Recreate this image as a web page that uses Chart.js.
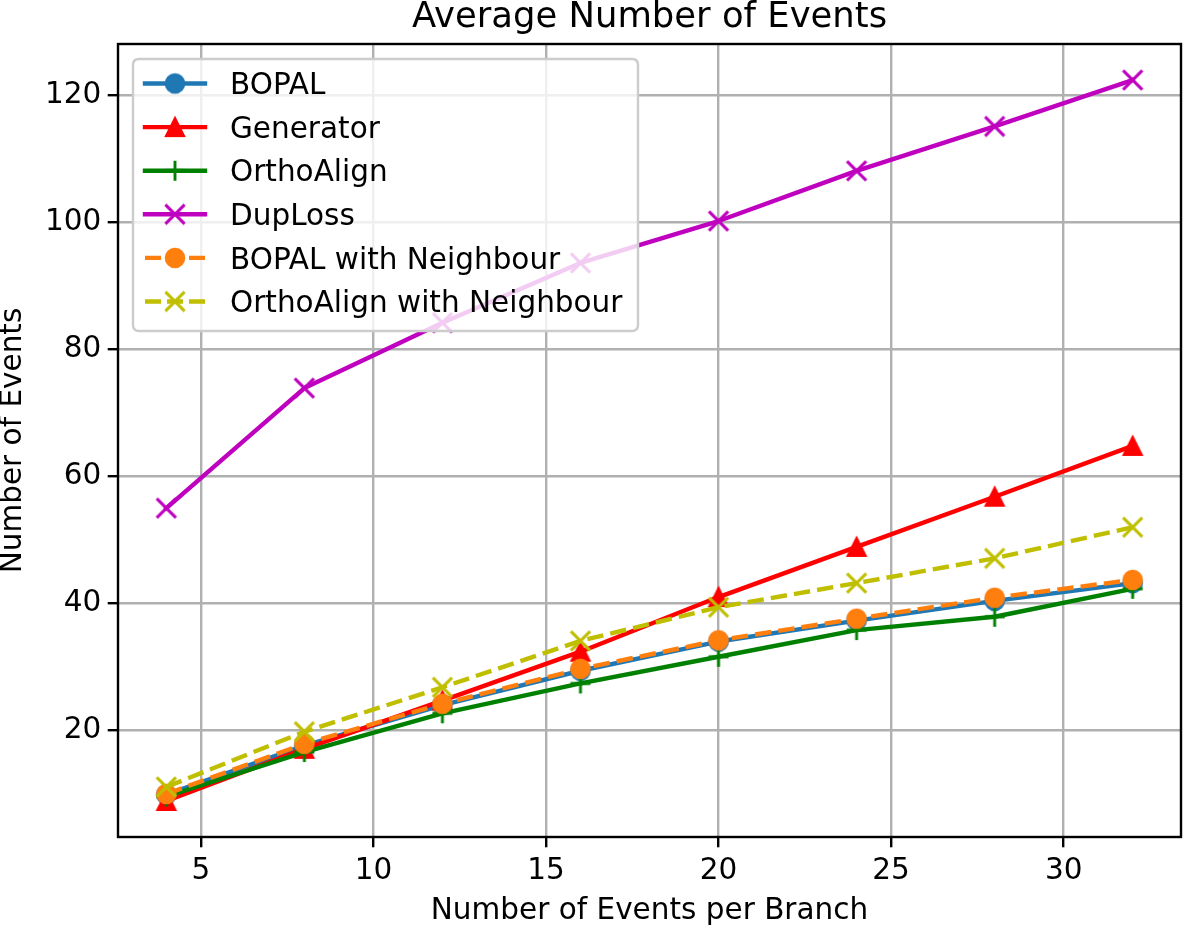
<!DOCTYPE html>
<html>
<head>
<meta charset="utf-8">
<script src="https://cdn.jsdelivr.net/npm/chart.js@4.4.1/dist/chart.umd.min.js"></script>
<style>
html, body { margin: 0; padding: 0; background: #ffffff; }
#wrap { width: 1183px; height: 927px; }
</style>
</head>
<body>
<div id="wrap"><canvas id="c" width="1183" height="927"></canvas></div>
<script>
// ---- data ----
const xValues = [4, 8, 12, 16, 20, 24, 28, 32];
const bopal = [9.9, 17.6, 24.0, 29.4, 34.0, 37.3, 40.4, 43.2];
const generator = [8.9, 17.1, 24.7, 32.4, 41.0, 48.9, 56.8, 64.8];
const orthoAlign = [9.6, 16.6, 22.7, 27.4, 31.6, 35.8, 37.9, 42.3];
const dupLoss = [55.0, 73.9, 84.2, 93.6, 100.2, 108.1, 115.1, 122.4];
const bopalNeighbour = [10.0, 17.9, 24.2, 29.7, 34.2, 37.6, 40.9, 43.7];
const orthoAlignNeighbour = [11.1, 19.8, 26.8, 34.1, 39.4, 43.2, 47.1, 52.0];
const seriesNames = ['BOPAL', 'Generator', 'OrthoAlign', 'DupLoss', 'BOPAL with Neighbour', 'OrthoAlign with Neighbour'];
const xTicks = [5, 10, 15, 20, 25, 30];
const yTicks = [20, 40, 60, 80, 100, 120];
const chartTitle = 'Average Number of Events';
const xTitle = 'Number of Events per Branch';
const yTitle = 'Number of Events';

// ---- styles ----
const FONT = 'DejaVu Sans';
const FS = 29.5;
const seriesValues = [bopal, generator, orthoAlign, dupLoss, bopalNeighbour, orthoAlignNeighbour];
const colors = ['#1f77b4', '#ff0000', '#008000', '#bf00bf', '#ff7f0e', '#bfbf00'];
const markers = ['circle', 'triangle', 'plus', 'x', 'circle', 'x'];
const dashed = [false, false, false, false, true, true];
const LW = 4.4;
const DASH = [16.4, 7.1];

function makeMarker(type, color) {
  const c = document.createElement('canvas');
  c.width = 28; c.height = 28;
  const g = c.getContext('2d');
  const m = 14;
  g.fillStyle = color; g.strokeStyle = color;
  if (type === 'circle') {
    g.lineWidth = 2.0;
    g.beginPath(); g.arc(m, m, 9.3, 0, Math.PI * 2); g.fill(); g.stroke();
  } else if (type === 'triangle') {
    const h = 9.0;
    g.lineWidth = 2.2; g.lineJoin = 'miter';
    g.beginPath(); g.moveTo(m, m - h); g.lineTo(m - h, m + h); g.lineTo(m + h, m + h); g.closePath();
    g.fill(); g.stroke();
  } else if (type === 'plus') {
    const h = 10.0;
    g.lineWidth = 2.9; g.lineCap = 'butt';
    g.beginPath(); g.moveTo(m - h, m); g.lineTo(m + h, m); g.moveTo(m, m - h); g.lineTo(m, m + h); g.stroke();
  } else if (type === 'x') {
    const h = 9.6;
    g.lineWidth = 3.0; g.lineCap = 'butt';
    g.beginPath(); g.moveTo(m - h, m - h); g.lineTo(m + h, m + h); g.moveTo(m - h, m + h); g.lineTo(m + h, m - h); g.stroke();
  }
  return c;
}
const markerImgs = markers.map((t, i) => makeMarker(t, colors[i]));

// axis limits like matplotlib's 5% margins
const allY = seriesValues.flat();
const yMinD = Math.min(...allY), yMaxD = Math.max(...allY);
const yPad = (yMaxD - yMinD) * 0.05;
const xPad = (Math.max(...xValues) - Math.min(...xValues)) * 0.05;

const datasets = seriesValues.map((arr, i) => ({
  label: seriesNames[i],
  data: xValues.map((x, k) => ({ x: x, y: arr[k] })),
  borderColor: colors[i],
  backgroundColor: colors[i],
  borderWidth: LW,
  borderDash: dashed[i] ? DASH : [],
  borderCapStyle: dashed[i] ? 'butt' : 'square',
  borderJoinStyle: 'round',
  pointStyle: markerImgs[i],
  pointRadius: 1,
  pointHoverRadius: 1,
  pointBorderWidth: 0,
  tension: 0,
  fill: false,
  order: seriesValues.length - i,
  clip: false
}));

const frameAndLegend = {
  id: 'frameAndLegend',
  afterDatasetsDraw(chart) {
    const a = chart.chartArea, ctx = chart.ctx;
    ctx.save();
    ctx.strokeStyle = '#000'; ctx.lineWidth = 2.4;
    ctx.strokeRect(a.left, a.top, a.right - a.left, a.bottom - a.top);
    ctx.restore();
  },
  afterDraw(chart) {
    const ctx = chart.ctx;
    const bx = 133, by = 59, bw = 505, bh = 272, r = 6;
    ctx.save();
    ctx.beginPath();
    ctx.moveTo(bx + r, by);
    ctx.lineTo(bx + bw - r, by); ctx.quadraticCurveTo(bx + bw, by, bx + bw, by + r);
    ctx.lineTo(bx + bw, by + bh - r); ctx.quadraticCurveTo(bx + bw, by + bh, bx + bw - r, by + bh);
    ctx.lineTo(bx + r, by + bh); ctx.quadraticCurveTo(bx, by + bh, bx, by + bh - r);
    ctx.lineTo(bx, by + r); ctx.quadraticCurveTo(bx, by, bx + r, by);
    ctx.closePath();
    ctx.fillStyle = 'rgba(255,255,255,0.8)'; ctx.fill();
    ctx.strokeStyle = '#cccccc'; ctx.lineWidth = 2.4; ctx.stroke();

    const rowY0 = 83.5, rowStep = 43.6;
    seriesNames.forEach((name, i) => {
      const y = rowY0 + rowStep * i;
      ctx.strokeStyle = colors[i]; ctx.lineWidth = LW;
      ctx.beginPath();
      if (dashed[i]) {
        ctx.lineCap = 'butt';
        ctx.setLineDash([16, 6]);
        ctx.moveTo(145, y); ctx.lineTo(205, y);
      } else {
        ctx.lineCap = 'square';
        ctx.setLineDash([]);
        ctx.moveTo(145, y); ctx.lineTo(205, y);
      }
      ctx.stroke();
      ctx.setLineDash([]);
      const img = markerImgs[i];
      ctx.drawImage(img, 175 - img.width / 2, y - img.height / 2);
      ctx.fillStyle = '#000';
      ctx.font = FS + 'px "' + FONT + '"';
      ctx.textBaseline = 'alphabetic';
      ctx.textAlign = 'left';
      ctx.fillText(name, 230, y + 0.365 * FS);
    });
    ctx.restore();
  }
};

new Chart(document.getElementById('c'), {
  type: 'line',
  data: { datasets: datasets },
  plugins: [frameAndLegend],
  options: {
    responsive: false,
    devicePixelRatio: 1,
    animation: false,
    events: [],
    layout: { padding: { left: 0, right: 2, top: 0, bottom: 0 } },
    plugins: {
      legend: { display: false },
      tooltip: { enabled: false },
      title: {
        display: true,
        text: chartTitle,
        color: '#000',
        fullSize: false,
        font: { family: FONT, size: 35.4, weight: 'normal', lineHeight: 1.0 },
        padding: { top: 0, bottom: 8.6 }
      }
    },
    scales: {
      x: {
        type: 'linear',
        position: 'bottom',
        min: Math.min(...xValues) - xPad,
        max: Math.max(...xValues) + xPad,
        afterBuildTicks: (s) => { s.ticks = xTicks.map(v => ({ value: v })); },
        afterFit: (s) => { s.height = 90; },
        ticks: {
          color: '#000', padding: 6, maxRotation: 0, autoSkip: false,
          font: { family: FONT, size: FS },
          callback: (v) => String(v)
        },
        grid: { color: '#b0b0b0', lineWidth: 2.4, tickColor: '#000', tickWidth: 2.4, tickLength: 10.3, drawTicks: true },
        border: { display: false },
        title: {
          display: true, text: xTitle, color: '#000',
          font: { family: FONT, size: FS, lineHeight: 1.05 },
          padding: { top: 0, bottom: 0 }
        }
      },
      y: {
        type: 'linear',
        position: 'left',
        min: yMinD - yPad,
        max: yMaxD + yPad,
        afterBuildTicks: (s) => { s.ticks = yTicks.map(v => ({ value: v })); },
        afterFit: (s) => { s.width = 118; },
        ticks: {
          color: '#000', padding: 6.5, autoSkip: false,
          font: { family: FONT, size: FS },
          callback: (v) => String(v)
        },
        grid: { color: '#b0b0b0', lineWidth: 2.4, tickColor: '#000', tickWidth: 2.4, tickLength: 10.3, drawTicks: true },
        border: { display: false },
        title: {
          display: true, text: yTitle, color: '#000',
          font: { family: FONT, size: FS, lineHeight: 0.92 },
          padding: { top: 0, bottom: 0 }
        }
      }
    }
  }
});
</script>
</body>
</html>
